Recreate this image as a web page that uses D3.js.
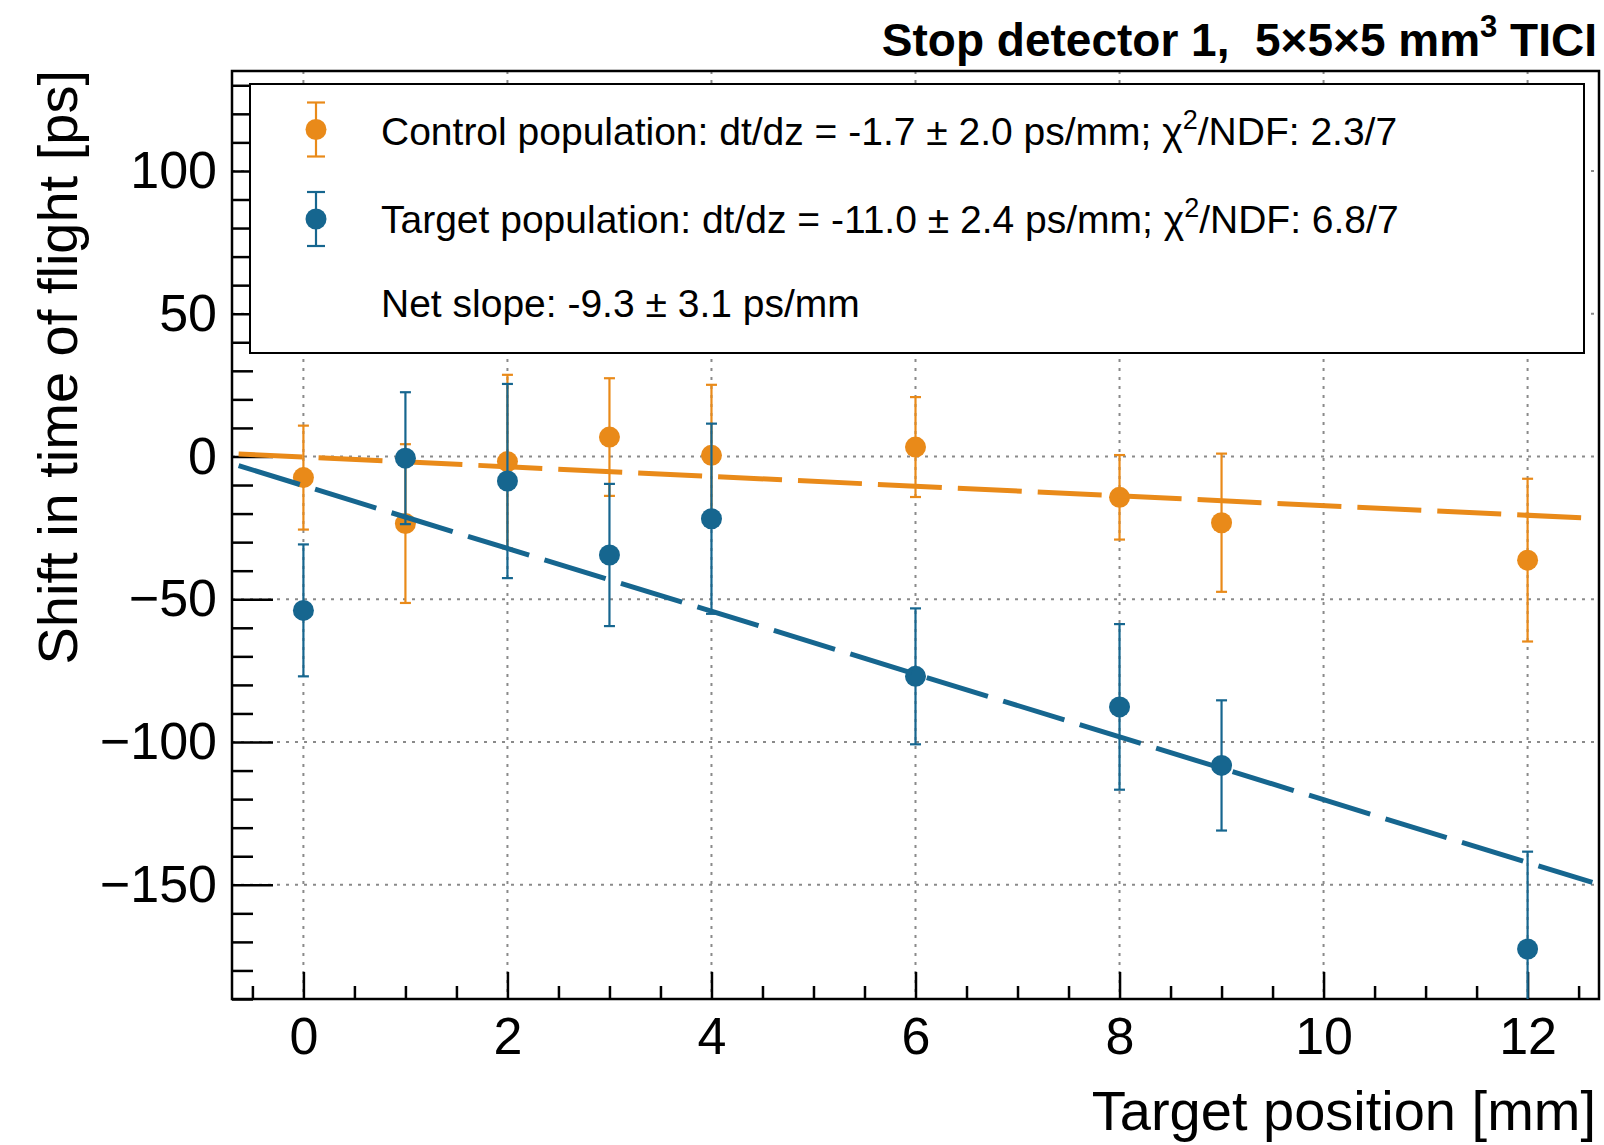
<!DOCTYPE html>
<html>
<head>
<meta charset="utf-8">
<script src="https://cdn.jsdelivr.net/npm/d3@7"></script>
<style>
  html, body { margin: 0; padding: 0; background: #fff; }
  svg { display: block; }
  text { font-family: "Liberation Sans", Arial, Helvetica, sans-serif; fill: #000; }
</style>
</head>
<body>
<svg id="chart" width="1604" height="1145"></svg>
<script>
// ---------------- data ----------------
const positions = [0, 1, 2, 3, 4, 6, 8, 9, 12];
const controlShift = [-7.4, -23.5, -1.8, 6.8, 0.4, 3.3, -14.3, -23.2, -36.3];
const controlErr   = [18.2, 27.8, 30.4, 20.6, 24.7, 17.5, 14.8, 24.2, 28.5];
const targetShift  = [-53.9, -0.6, -8.6, -34.5, -21.8, -77.0, -87.7, -108.2, -172.5];
const targetErr    = [23.1, 23.1, 34.0, 24.9, 33.3, 23.8, 29.0, 22.8, 34.1];

const controlFit = { intercept: -0.2, slope: -1.7 };
const targetFit  = { intercept: -10.2, slope: -11.0 };
const fitRange = [-0.635, 12.635];

const xDomain = [-0.7, 12.7];
const yDomain = [-190, 135];
const xMajorTicks = [0, 2, 4, 6, 8, 10, 12];
const yMajorTicks = [-150, -100, -50, 0, 50, 100];

const titleText = "Stop detector 1,\u00a0 5\u00d75\u00d75 mm";
const xTitle = "Target position [mm]";
const yTitle = "Shift in time of flight [ps]";
const legendLines = [
  ["Control population: dt/dz = -1.7 \u00b1 2.0 ps/mm; \u03c7", "2", "/NDF: 2.3/7"],
  ["Target population: dt/dz = -11.0 \u00b1 2.4 ps/mm; \u03c7", "2", "/NDF: 6.8/7"],
  ["Net slope: -9.3 \u00b1 3.1 ps/mm", "", ""]
];

const ORANGE = "#E98A19";
const BLUE = "#16668F";

// ---------------- layout ----------------
const L = 232, R = 1599, T = 71, B = 999;
const svg = d3.select("#chart");
const x = d3.scaleLinear().domain(xDomain).range([L, R]);
const y = d3.scaleLinear().domain(yDomain).range([B, T]);

svg.append("defs").append("clipPath").attr("id", "plotclip")
  .append("rect").attr("x", L).attr("y", T).attr("width", R - L).attr("height", B - T);

// grid
const grid = svg.append("g").attr("stroke", "#8a8a8a").attr("stroke-width", 2)
  .attr("stroke-dasharray", "3,6");
grid.selectAll("line.gx").data(xMajorTicks).join("line")
  .attr("x1", d => x(d)).attr("x2", d => x(d)).attr("y1", T).attr("y2", B);
grid.selectAll("line.gy").data(yMajorTicks).join("line")
  .attr("y1", d => y(d)).attr("y2", d => y(d)).attr("x1", L).attr("x2", R);

// minor tick values
const yMinor = d3.range(-190, 136, 10).filter(v => v % 50 !== 0);
const xMinor = d3.range(-0.5, 12.75, 0.5).filter(v => Math.abs(v % 2) > 1e-9);

// axes
const yAxis = svg.append("g").attr("transform", `translate(${L},0)`)
  .call(d3.axisLeft(y).tickValues(yMajorTicks).tickSize(-41).tickPadding(15));
const yAxisMinor = svg.append("g").attr("transform", `translate(${L},0)`)
  .call(d3.axisLeft(y).tickValues(yMinor).tickSize(-21).tickFormat(""));
const xAxis = svg.append("g").attr("transform", `translate(0,${B})`)
  .call(d3.axisBottom(x).tickValues(xMajorTicks).tickSize(-27).tickPadding(18));
const xAxisMinor = svg.append("g").attr("transform", `translate(0,${B})`)
  .call(d3.axisBottom(x).tickValues(xMinor).tickSize(-13).tickFormat(""));

[yAxis, yAxisMinor, xAxis, xAxisMinor].forEach(g => {
  g.select(".domain").remove();
  g.selectAll(".tick line").attr("stroke", "#000").attr("stroke-width", 2.5);
  g.selectAll(".tick text").attr("font-size", 52)
    .attr("font-family", '"Liberation Sans", Arial, Helvetica, sans-serif').attr("fill", "#000");
});

// frame
svg.append("rect").attr("x", L).attr("y", T).attr("width", R - L).attr("height", B - T)
  .attr("fill", "none").attr("stroke", "#000").attr("stroke-width", 2.5);

// data series
const plot = svg.append("g").attr("clip-path", "url(#plotclip)");
function drawSeries(shift, err, fit, color) {
  const g = plot.append("g");
  const pts = positions.map((p, i) => ({ p, v: shift[i], e: err[i] }));
  g.selectAll("line.eb").data(pts).join("line")
    .attr("x1", d => x(d.p)).attr("x2", d => x(d.p))
    .attr("y1", d => y(d.v + d.e)).attr("y2", d => y(d.v - d.e))
    .attr("stroke", color).attr("stroke-width", 2.2);
  ["top", "bot"].forEach(k => {
    g.selectAll("line.cap" + k).data(pts).join("line")
      .attr("x1", d => x(d.p) - 5.5).attr("x2", d => x(d.p) + 5.5)
      .attr("y1", d => y(k === "top" ? d.v + d.e : d.v - d.e))
      .attr("y2", d => y(k === "top" ? d.v + d.e : d.v - d.e))
      .attr("stroke", color).attr("stroke-width", 2.2);
  });
  g.selectAll("circle").data(pts).join("circle")
    .attr("cx", d => x(d.p)).attr("cy", d => y(d.v)).attr("r", 10.5).attr("fill", color);
  const line = d3.line().x(d => x(d)).y(d => y(fit.intercept + fit.slope * d));
  g.append("path").attr("d", line(fitRange)).attr("fill", "none")
    .attr("stroke", color).attr("stroke-width", 5).attr("stroke-dasharray", "64,16");
}
drawSeries(controlShift, controlErr, controlFit, ORANGE);
drawSeries(targetShift, targetErr, targetFit, BLUE);

// legend
const lg = svg.append("g");
lg.append("rect").attr("x", 250).attr("y", 84).attr("width", 1334).attr("height", 269)
  .attr("fill", "#fff").attr("stroke", "#000").attr("stroke-width", 2);
const legendMarkers = [{ c: ORANGE, cy: 129.5 }, { c: BLUE, cy: 219 }];
legendMarkers.forEach(m => {
  lg.append("line").attr("x1", 316).attr("x2", 316).attr("y1", m.cy - 27).attr("y2", m.cy + 27)
    .attr("stroke", m.c).attr("stroke-width", 2.2);
  [-27, 27].forEach(o => lg.append("line").attr("x1", 307).attr("x2", 325)
    .attr("y1", m.cy + o).attr("y2", m.cy + o).attr("stroke", m.c).attr("stroke-width", 2.2));
  lg.append("circle").attr("cx", 316).attr("cy", m.cy).attr("r", 10.5).attr("fill", m.c);
});
const baselines = [145, 233, 317];
legendLines.forEach((parts, i) => {
  const t = lg.append("text").attr("x", 381).attr("y", baselines[i]).attr("font-size", 39);
  t.append("tspan").text(parts[0]);
  if (parts[1]) {
    t.append("tspan").attr("font-size", 27).attr("dy", -16).text(parts[1]);
    t.append("tspan").attr("dy", 16).text(parts[2]);
  }
});

// title
const tt = svg.append("text").attr("x", 1597).attr("y", 56).attr("text-anchor", "end")
  .attr("font-size", 46).attr("font-weight", "bold");
tt.append("tspan").text(titleText);
tt.append("tspan").attr("font-size", 31).attr("dy", -19).text("3");
tt.append("tspan").attr("dy", 19).text(" TICI");

// axis titles
svg.append("text").attr("x", 1596).attr("y", 1130).attr("text-anchor", "end")
  .attr("font-size", 56).text(xTitle);
svg.append("text").attr("transform", "translate(77,70) rotate(-90)")
  .attr("text-anchor", "end").attr("font-size", 56).text(yTitle);
</script>
</body>
</html>
